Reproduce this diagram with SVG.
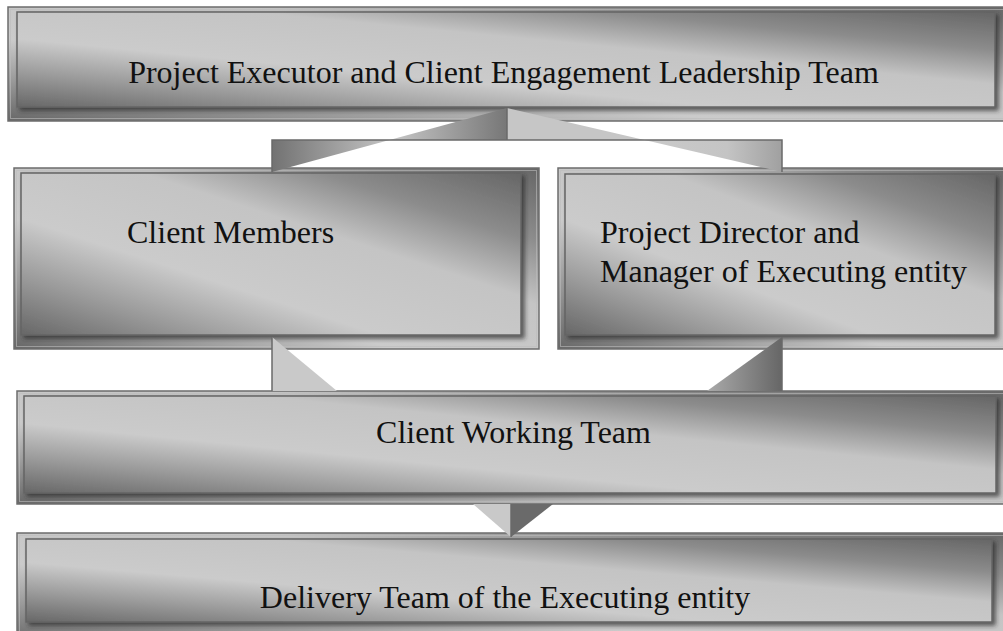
<svg xmlns="http://www.w3.org/2000/svg" width="1003" height="631" viewBox="0 0 1003 631">
  <defs>
    <linearGradient id="gBox" x1="1" y1="0" x2="0" y2="1">
      <stop offset="0" stop-color="#666666"/>
      <stop offset="0.2" stop-color="#8c8c8c"/>
      <stop offset="0.38" stop-color="#c4c4c4"/>
      <stop offset="0.64" stop-color="#cbcbcb"/>
      <stop offset="0.82" stop-color="#9a9a9a"/>
      <stop offset="1" stop-color="#676767"/>
    </linearGradient>
    <linearGradient id="gLightDark" x1="0" y1="0" x2="1" y2="0">
      <stop offset="0" stop-color="#c8c8c8"/>
      <stop offset="1" stop-color="#777777"/>
    </linearGradient>
    <linearGradient id="gDarkLight" x1="0" y1="0" x2="1" y2="0">
      <stop offset="0" stop-color="#727272"/>
      <stop offset="1" stop-color="#c4c4c4"/>
    </linearGradient>
    <linearGradient id="gLightMid" x1="0" y1="0" x2="1" y2="0">
      <stop offset="0" stop-color="#cacaca"/>
      <stop offset="0.6" stop-color="#c4c4c4"/>
      <stop offset="1" stop-color="#a0a0a0"/>
    </linearGradient>
    <linearGradient id="gMidDark" x1="0" y1="0" x2="1" y2="0">
      <stop offset="0" stop-color="#aaaaaa"/>
      <stop offset="1" stop-color="#666666"/>
    </linearGradient>
    <filter id="shadow" x="-5%" y="-10%" width="110%" height="125%">
      <feDropShadow dx="3" dy="3" stdDeviation="2" flood-color="#2a2a2a" flood-opacity="0.7"/>
    </filter>
  </defs>
  <style>
    .outer { fill: url(#gBox); stroke: #6c6c6c; stroke-width: 1.5; }
    .rim { fill: none; stroke: #bdbdbd; stroke-width: 1; stroke-opacity: 0.6; }
    .inner { fill: url(#gBox); stroke: #646464; stroke-width: 1.5; filter: url(#shadow); }
    .label { font-family: "Liberation Serif", "Times New Roman", serif; font-size: 32px; fill: #111111; }
    .cline { stroke: #6a6a6a; stroke-width: 1.5; fill: none; }
  </style>

  <g id="node-leadership">
    <rect class="outer" x="8" y="7" width="1005" height="114"/>
    <rect class="rim" x="10.5" y="9.5" width="1000" height="109"/>
    <rect class="inner" x="17" y="12" width="978" height="95"/>
    <text class="label" x="503.5" y="83" text-anchor="middle">Project Executor and Client Engagement Leadership Team</text>
  </g>

  <g id="node-client-members">
    <rect class="outer" x="14" y="168" width="525" height="181"/>
    <rect class="rim" x="16.5" y="170.5" width="520" height="176"/>
    <rect class="inner" x="21" y="173" width="500" height="162"/>
    <text class="label" x="127" y="243">Client Members</text>
  </g>

  <g id="node-project-director">
    <rect class="outer" x="558" y="168" width="460" height="181"/>
    <rect class="rim" x="560.5" y="170.5" width="455" height="176"/>
    <rect class="inner" x="565" y="174" width="430" height="161"/>
    <text class="label" x="600" y="243">Project Director and</text>
    <text class="label" x="600" y="282">Manager of Executing entity</text>
  </g>

  <g id="node-client-working-team">
    <rect class="outer" x="17" y="391" width="1000" height="113"/>
    <rect class="rim" x="19.5" y="393.5" width="995" height="108"/>
    <rect class="inner" x="24" y="396" width="972" height="97"/>
    <text class="label" x="513.5" y="443" text-anchor="middle">Client Working Team</text>
  </g>

  <g id="node-delivery-team">
    <rect class="outer" x="17" y="533" width="1000" height="110"/>
    <rect class="rim" x="19.5" y="535.5" width="995" height="105"/>
    <rect class="inner" x="26" y="539" width="966" height="83"/>
    <text class="label" x="505" y="608" text-anchor="middle">Delivery Team of the Executing entity</text>
  </g>

  <g id="connectors">
    <polygon points="507,108 507,140 389.5,140" fill="url(#gLightDark)"/>
    <polygon points="272,140 272,172 389.5,140" fill="url(#gDarkLight)"/>
    <polygon points="507,108 507,140 644.5,140" fill="#c6c6c6"/>
    <polygon points="644.5,140 782,140 782,172" fill="url(#gLightMid)"/>
    <path class="cline" d="M507,108 V140 M272,172 V140 H782 V172"/>
    <polygon points="272,337 272,391 337,391" fill="#c9c9c9"/>
    <polygon points="782,337 782,391 707,391" fill="url(#gMidDark)"/>
    <path class="cline" d="M272,337 V391 M782,337 V391"/>
    <polygon points="473,504 511,504 511,537" fill="#c9c9c9"/>
    <polygon points="511,504 553,504 511,537" fill="#6a6a6a"/>
    <path class="cline" d="M511,504 V537"/>
  </g>
</svg>
